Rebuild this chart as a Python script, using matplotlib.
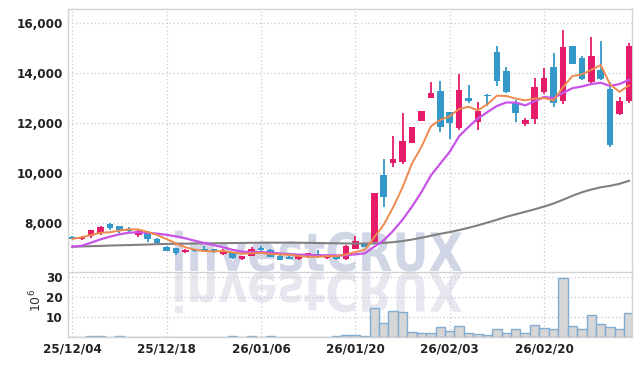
import matplotlib
matplotlib.use("Agg")
import numpy as np
import matplotlib.pyplot as plt
from matplotlib.textpath import TextPath
from matplotlib.patches import PathPatch
from matplotlib.font_manager import FontProperties, fontManager
from matplotlib.transforms import Affine2D, IdentityTransform

# trading days 25/12/04 .. 26/03/06
dates = ["25/12/04", "25/12/05", "25/12/08", "25/12/09", "25/12/10", "25/12/11",
         "25/12/12", "25/12/15", "25/12/16", "25/12/17", "25/12/18", "25/12/19",
         "25/12/22", "25/12/23", "25/12/24", "25/12/26", "25/12/29", "25/12/30",
         "26/01/02", "26/01/05", "26/01/06", "26/01/07", "26/01/08", "26/01/09",
         "26/01/12", "26/01/13", "26/01/14", "26/01/15", "26/01/16", "26/01/19",
         "26/01/20", "26/01/21", "26/01/22", "26/01/23", "26/01/26", "26/01/27",
         "26/01/28", "26/01/29", "26/01/30", "26/02/02", "26/02/03", "26/02/04",
         "26/02/05", "26/02/06", "26/02/09", "26/02/10", "26/02/11", "26/02/12",
         "26/02/13", "26/02/19", "26/02/20", "26/02/23", "26/02/24", "26/02/25",
         "26/02/26", "26/02/27", "26/03/03", "26/03/04", "26/03/05", "26/03/06"]

open_ = [7460, 7380, 7505, 7625, 7960, 7890, 7785, 7535, 7665, 7385,
         7065, 7010, 6855, 6940, 6990, 6960, 6780, 6840, 6575, 6705,
         7025, 6945, 6705, 6665, 6560, 6640, 6770, 6615, 6705, 6560,
         6975, 7170, 7265, 9930, 10425, 10465, 11200, 12105, 13000, 13290,
         12440, 11800, 13010, 12065, 13120, 14840, 14090, 12850, 11960, 12185,
         13265, 14240, 12880, 15090, 14610, 13665, 14130, 13385, 12385, 12905]
high = [7480, 7480, 7740, 7880, 8025, 7900, 7840, 7730, 7680, 7400,
        7080, 7020, 6960, 6990, 7090, 6990, 6990, 6860, 6700, 7050,
        7090, 6960, 6720, 6680, 6750, 6820, 6930, 6720, 6720, 7130,
        7500, 7190, 9200, 10560, 11504, 12400, 11840, 12490, 13640, 13680,
        12460, 13960, 13520, 12864, 13170, 15092, 14264, 12932, 12224, 13812,
        14224, 14812, 15732, 15092, 14692, 15440, 15280, 13664, 13040, 15200]
low = [7370, 7320, 7400, 7530, 7730, 7625, 7625, 7465, 7265, 7180,
       6880, 6730, 6830, 6870, 6850, 6820, 6730, 6580, 6550, 6680,
       6880, 6640, 6530, 6570, 6540, 6620, 6600, 6590, 6540, 6530,
       6960, 7040, 7200, 8664, 10240, 10360, 11200, 12105, 13000, 11664,
       11360, 11732, 12800, 11732, 12690, 13492, 13200, 12064, 11892, 11972,
       13172, 12652, 12772, 14360, 13732, 13600, 13732, 11064, 12332, 12824]
close = [7390, 7420, 7730, 7865, 7800, 7730, 7680, 7690, 7360, 7200,
         6905, 6800, 6930, 6900, 6890, 6860, 6890, 6600, 6680, 6970,
         6935, 6665, 6545, 6585, 6730, 6800, 6640, 6680, 6560, 7090,
         7290, 7060, 9200, 9065, 10570, 11290, 11840, 12490, 13200, 11865,
         12000, 13330, 12905, 12490, 13080, 13705, 13265, 12400, 12130, 13440,
         13800, 12800, 15040, 14360, 13785, 14690, 13785, 11130, 12890, 15090]

# moving averages as drawn
ma5 = [7372, 7440, 7532, 7624, 7641, 7709, 7761, 7753, 7652, 7532,
       7367, 7191, 7039, 6949, 6887, 6878, 6896, 6830, 6784, 6800,
       6815, 6770, 6759, 6740, 6692, 6665, 6660, 6687, 6682, 6754,
       6852, 6936, 7440, 7941, 8637, 9437, 10393, 11051, 11878, 12137,
       12279, 12577, 12660, 12518, 12763, 13104, 13091, 12990, 12918, 12988,
       13007, 12914, 13442, 13888, 13957, 14135, 14332, 13550, 13256, 13517]
ma10 = [7064, 7104, 7224, 7360, 7464, 7560, 7624, 7640, 7624, 7587,
        7538, 7476, 7396, 7301, 7210, 7123, 7044, 6935, 6867, 6844,
        6847, 6833, 6795, 6762, 6746, 6740, 6715, 6723, 6711, 6723,
        6759, 6798, 7064, 7312, 7696, 8145, 8665, 9246, 9910, 10387,
        10858, 11485, 11856, 12198, 12450, 12692, 12834, 12825, 12718, 12876,
        13056, 13003, 13216, 13403, 13473, 13571, 13623, 13496, 13572, 13737]
ma60 = [7064, 7075, 7085, 7095, 7110, 7120, 7130, 7140, 7150, 7165,
        7175, 7180, 7185, 7190, 7195, 7200, 7205, 7210, 7215, 7220,
        7222, 7224, 7225, 7225, 7222, 7218, 7212, 7205, 7200, 7195,
        7190, 7190, 7195, 7215, 7245, 7290, 7350, 7420, 7500, 7580,
        7650, 7730, 7820, 7920, 8030, 8140, 8260, 8360, 8460, 8560,
        8670, 8790, 8940, 9100, 9240, 9350, 9440, 9500, 9580, 9700]

# volume, millions
volume = [0.1, 0.1, 0.6, 0.6, 0.1, 0.6, 0.1, 0.1, 0.1, 0.1,
          0.1, 0.1, 0.1, 0.1, 0.1, 0.1, 0.1, 0.6, 0.1, 0.6,
          0.1, 0.6, 0.1, 0.1, 0.1, 0.1, 0.1, 0.1, 0.5, 1.0,
          1.0, 0.5, 14.5, 7.0, 13.0, 12.5, 2.5, 2.0, 2.0, 5.0,
          3.0, 5.5, 2.0, 1.5, 1.0, 4.0, 2.0, 4.0, 2.0, 6.0,
          4.5, 4.0, 29.5, 5.5, 4.0, 11.0, 6.5, 5.0, 4.0, 12.0]

price_ticks = [8000, 10000, 12000, 14000, 16000]
vol_ticks = [10, 20, 30]

RED = "#e51c6a"
BLUE = "#3498c8"
GRID = "#c9c9db"
SPINE = "#d2d2d2"
TXT = "#222222"

# narrow bold face for tick labels if one is installed
names = {f.name for f in fontManager.ttflist}
narrow = [n for n in ("Liberation Sans Narrow", "DejaVu Sans Condensed") if n in names]
if narrow:
    tick_font = FontProperties(family=narrow[0], weight="bold", size=10.5)
else:
    tick_font = FontProperties(family="DejaVu Sans", stretch="condensed",
                               weight="bold", size=9.5)

W, H = 642, 366
fig = plt.figure(figsize=(W / 100, H / 100), dpi=100)
L, R = 68.3, 632.3
ax = fig.add_axes([L / W, (H - 271) / H, (R - L) / W, (271 - 9) / H])
axv = fig.add_axes([L / W, (H - 337.3) / H, (R - L) / W, (337.3 - 272.3) / H],
                   sharex=ax)

x = np.arange(len(dates))
o = np.array(open_)
c = np.array(close)
cols = np.where(c >= o, RED, BLUE)

# watermark + reflection, behind both panels
fp = FontProperties(family="DejaVu Sans", weight="bold")
tp = TextPath((0, 0), "investCRUX", size=1, prop=fp)
ext = tp.get_extents()
sx = 287 / ext.width
sy = 41 / ext.height
base = H - 271
wm = Affine2D().translate(-ext.x0, 0).scale(sx, sy).translate(175, base)
fig.add_artist(PathPatch(tp, transform=wm + IdentityTransform(),
                         facecolor="#d0d6e6", edgecolor="none", zorder=-5))
rf = Affine2D().translate(-ext.x0, 0).scale(sx, -sy).translate(175, base - 2)
fig.add_artist(PathPatch(tp, transform=rf + IdentityTransform(),
                         facecolor="#e6e7ef", edgecolor="none", zorder=-5))

for a in (ax, axv):
    a.set_facecolor("none")
    a.grid(True, color=GRID, linestyle=(0, (1, 2)), linewidth=0.9)
    a.set_axisbelow(True)
    for s in a.spines.values():
        s.set_color(SPINE)
        s.set_linewidth(1)
    a.tick_params(length=0, colors=TXT, pad=4)

# candles
ax.vlines(x, low, high, colors=cols, linewidth=1.3, zorder=3)
body = np.maximum(np.abs(c - o), 60)
ax.bar(x, body, bottom=np.minimum(o, c), width=0.7, color=cols,
       edgecolor="none", zorder=3)

ax.plot(x, ma60, color="#808080", linewidth=1.5, zorder=4)
ax.plot(x, ma10, color="#c853e8", linewidth=1.6, zorder=4)
ax.plot(x, ma5, color="#ee8a4e", linewidth=1.4, zorder=4)

ax.set_ylim(6092, 16572)
ax.set_yticks(price_ticks)
ax.set_yticklabels([f"{v:,}" for v in price_ticks], fontproperties=tick_font)
ax.tick_params(axis="x", labelbottom=False)
ax.spines["bottom"].set_visible(False)

axv.bar(x, volume, width=1.0, color="#d6d6d6", edgecolor="#82acd2",
        linewidth=1, zorder=2)
axv.set_ylim(0, 32.5)
axv.set_yticks(vol_ticks)
axv.set_yticklabels([str(v) for v in vol_ticks], fontproperties=tick_font)
axv.set_xlim(-0.42, 59.35)
ticks = x[::10]
axv.set_xticks(ticks)
axv.set_xticklabels([dates[i] for i in ticks], fontproperties=tick_font)
fig.text(36 / W, (H - 300) / H, "$10^6$", rotation=90, ha="center",
         va="center", fontsize=9, color="#333333")

fig.savefig("out.png", dpi=100)
